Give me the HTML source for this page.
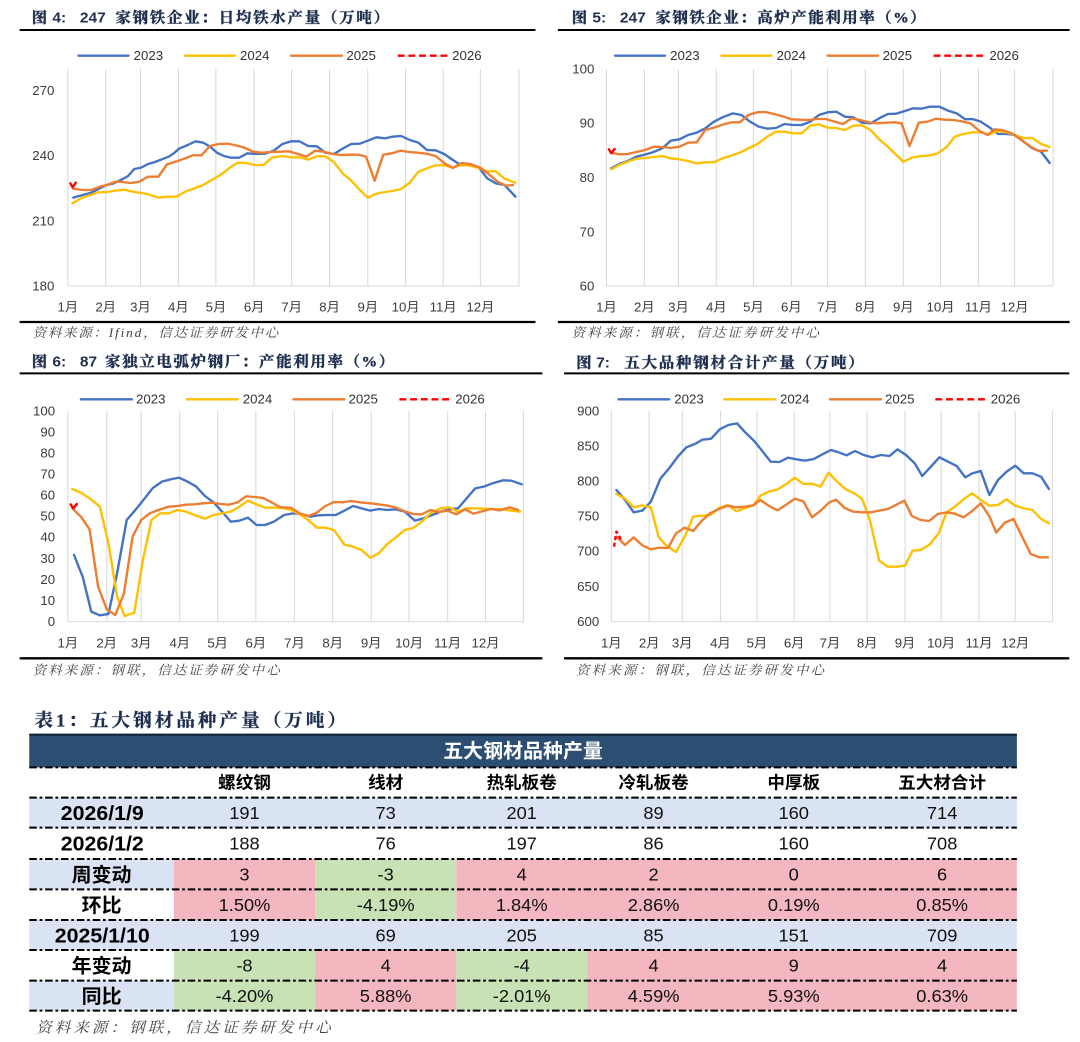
<!DOCTYPE html>
<html><head><meta charset="utf-8"><style>
html,body{margin:0;padding:0;background:#fff;}
svg{display:block;}
.ax{font-family:"Liberation Sans","Noto Sans CJK SC",sans-serif;font-size:38.5px;fill:#3a3a3a;}
.lg{font-family:"Liberation Sans",sans-serif;font-size:38.5px;fill:#333;}
.tt{font-family:"Liberation Serif","Noto Serif CJK SC",serif;font-size:45px;font-weight:bold;fill:#1f2f4f;stroke:#1f2f4f;stroke-width:1.2;}
.tb{font-family:"Liberation Sans",sans-serif;font-size:45px;font-weight:bold;fill:#1f2f4f;}
.src{font-family:"Liberation Serif","Noto Serif CJK SC",serif;font-size:39px;font-style:italic;fill:#444;}
.grid{stroke:#d9d9d9;stroke-width:3;}
.s{fill:none;stroke-width:7;stroke-linejoin:round;stroke-linecap:round;}
.b{stroke:#4472c4;}.y{stroke:#ffc000;}.o{stroke:#ed7d31;}.r{stroke:#ff0000;stroke-dasharray:12 8;stroke-linecap:butt;}
.hd{font-family:"Liberation Sans","Noto Sans CJK SC",sans-serif;font-weight:bold;fill:#000;text-anchor:middle;}
.nv{font-family:"Liberation Sans",sans-serif;font-size:53px;fill:#111;text-anchor:middle;}
.dd{stroke:#000;stroke-width:6;stroke-dasharray:22 8 8 8;}
</style></head><body>
<svg width="1080" height="1042" viewBox="0 0 1080 1042" xmlns="http://www.w3.org/2000/svg">

<!-- ============ CHART 1 ============ -->
<g transform="translate(0,0) scale(0.34435,0.33333)">
  <text class="tt" x="92" y="68">图</text>
  <text class="tb" x="152" y="68">4:</text>
  <text class="tb" x="232" y="68">247</text>
  <text class="tt" x="335" y="68" textLength="795" lengthAdjust="spacing">家钢铁企业：日均铁水产量（万吨）</text>
  <line x1="57" y1="90" x2="1555" y2="90" stroke="#000" stroke-width="6"/>
  <line x1="228" y1="167" x2="373" y2="167" class="s b"/><text class="lg" x="388" y="180">2023</text>
  <line x1="537" y1="167" x2="682" y2="167" class="s y"/><text class="lg" x="697" y="180">2024</text>
  <line x1="845" y1="167" x2="993" y2="167" class="s o"/><text class="lg" x="1006" y="180">2025</text>
  <line x1="1155" y1="167" x2="1303" y2="167" class="s r" style="stroke-dasharray:20 11"/><text class="lg" x="1313" y="180">2026</text>
  <g class="grid">
    <line x1="197" y1="207" x2="197" y2="858"/><line x1="307" y1="207" x2="307" y2="858"/><line x1="408" y1="207" x2="408" y2="858"/><line x1="518" y1="207" x2="518" y2="858"/><line x1="627" y1="207" x2="627" y2="858"/><line x1="738" y1="207" x2="738" y2="858"/><line x1="847" y1="207" x2="847" y2="858"/><line x1="957" y1="207" x2="957" y2="858"/><line x1="1068" y1="207" x2="1068" y2="858"/><line x1="1178" y1="207" x2="1178" y2="858"/><line x1="1287" y1="207" x2="1287" y2="858"/><line x1="1395" y1="207" x2="1395" y2="858"/><line x1="1507" y1="207" x2="1507" y2="858"/>
    <line x1="197" y1="858" x2="1507" y2="858"/>
  </g>
  <g class="ax" text-anchor="end">
    <text x="158" y="285">270</text><text x="158" y="480">240</text><text x="158" y="676">210</text><text x="158" y="871">180</text>
  </g>
  <g class="ax" text-anchor="middle">
    <text x="197" y="934">1月</text><text x="307" y="934">2月</text><text x="408" y="934">3月</text><text x="518" y="934">4月</text><text x="627" y="934">5月</text><text x="738" y="934">6月</text><text x="847" y="934">7月</text><text x="957" y="934">8月</text><text x="1068" y="934">9月</text><text x="1178" y="934">10月</text><text x="1287" y="934">11月</text><text x="1395" y="934">12月</text>
  </g>
  <polyline class="s b" points="213,593 240,585 265,578 290,565 307,556 330,550 355,538 372,528 390,507 410,503 430,492 450,486 470,478 490,470 507,458 520,446 545,435 568,424 590,428 610,440 630,458 650,468 670,473 695,473 718,460 740,462 770,461 795,452 820,432 845,424 870,424 895,438 920,439 945,458 970,462 995,446 1020,432 1045,431 1068,422 1093,412 1118,415 1140,410 1165,408 1190,420 1215,428 1240,450 1265,451 1290,462 1315,480 1340,496 1365,496 1390,502 1415,535 1440,550 1465,555 1497,590"/>
  <polyline class="s y" points="210,610 235,595 260,586 285,577 310,576 335,572 360,569 385,575 410,579 435,584 460,593 485,590 512,590 540,574 565,565 590,555 615,540 640,525 665,505 690,488 715,489 740,495 765,495 790,473 820,468 845,472 870,472 895,479 920,469 945,469 970,487 995,520 1020,542 1045,570 1068,593 1093,581 1118,576 1140,573 1165,567 1190,548 1215,515 1240,505 1265,496 1290,496 1315,503 1340,495 1365,497 1390,504 1415,514 1440,514 1465,536 1497,548"/>
  <polyline class="s o" points="213,566 240,570 265,570 290,560 310,555 335,545 355,546 380,549 405,545 430,530 460,530 485,493 510,485 535,476 560,466 585,466 610,438 635,432 660,431 685,436 710,443 735,455 760,458 790,456 815,455 840,454 865,462 890,470 915,452 940,455 965,462 990,465 1015,464 1040,464 1063,470 1088,542 1113,464 1138,460 1163,452 1188,456 1213,458 1238,461 1265,468 1290,489 1315,504 1340,489 1365,492 1395,503 1420,523 1445,545 1470,557 1490,555"/>
  <polyline class="s" stroke="#ff0000" points="204,550 211,562 220,548"/>
  <line x1="57" y1="966" x2="1555" y2="966" stroke="#000" stroke-width="7"/>
  <text class="src" x="95" y="1011" textLength="713" lengthAdjust="spacing">资料来源：Ifind，信达证券研发中心</text>
</g>

<!-- ============ CHART 2 ============ -->
<g transform="translate(540,0) scale(0.34435,0.33333)">
  <text class="tt" x="92" y="68">图</text>
  <text class="tb" x="152" y="68">5:</text>
  <text class="tb" x="232" y="68">247</text>
  <text class="tt" x="335" y="68" textLength="785" lengthAdjust="spacing">家钢铁企业：高炉产能利用率（%）</text>
  <line x1="52" y1="90" x2="1538" y2="90" stroke="#000" stroke-width="6"/>
  <line x1="218" y1="167" x2="363" y2="167" class="s b"/><text class="lg" x="378" y="180">2023</text>
  <line x1="527" y1="167" x2="672" y2="167" class="s y"/><text class="lg" x="687" y="180">2024</text>
  <line x1="835" y1="167" x2="982" y2="167" class="s o"/><text class="lg" x="995" y="180">2025</text>
  <line x1="1143" y1="167" x2="1292" y2="167" class="s r" style="stroke-dasharray:20 11"/><text class="lg" x="1305" y="180">2026</text>
  <g class="grid">
    <line x1="193" y1="207" x2="193" y2="858"/><line x1="303" y1="207" x2="303" y2="858"/><line x1="402" y1="207" x2="402" y2="858"/><line x1="512" y1="207" x2="512" y2="858"/><line x1="620" y1="207" x2="620" y2="858"/><line x1="730" y1="207" x2="730" y2="858"/><line x1="835" y1="207" x2="835" y2="858"/><line x1="945" y1="207" x2="945" y2="858"/><line x1="1055" y1="207" x2="1055" y2="858"/><line x1="1163" y1="207" x2="1163" y2="858"/><line x1="1273" y1="207" x2="1273" y2="858"/><line x1="1378" y1="207" x2="1378" y2="858"/><line x1="1490" y1="207" x2="1490" y2="858"/>
    <line x1="193" y1="858" x2="1490" y2="858"/>
  </g>
  <g class="ax" text-anchor="end">
    <text x="158" y="220">100</text><text x="158" y="383">90</text><text x="158" y="546">80</text><text x="158" y="709">70</text><text x="158" y="871">60</text>
  </g>
  <g class="ax" text-anchor="middle">
    <text x="193" y="934">1月</text><text x="303" y="934">2月</text><text x="402" y="934">3月</text><text x="512" y="934">4月</text><text x="620" y="934">5月</text><text x="730" y="934">6月</text><text x="835" y="934">7月</text><text x="945" y="934">8月</text><text x="1055" y="934">9月</text><text x="1163" y="934">10月</text><text x="1273" y="934">11月</text><text x="1378" y="934">12月</text>
  </g>
  <polyline class="s b" points="207,505 230,492 255,483 280,470 305,464 330,456 355,445 380,422 405,418 430,405 455,398 480,385 505,365 530,352 560,340 585,345 610,365 635,380 660,386 685,384 710,372 735,375 760,375 785,365 810,345 835,337 860,335 885,350 910,352 935,368 960,370 985,355 1010,342 1035,341 1060,333 1083,325 1108,326 1133,320 1160,320 1185,332 1210,340 1235,358 1255,357 1280,365 1305,382 1330,402 1355,402 1380,405 1405,425 1430,445 1455,455 1480,489"/>
  <polyline class="s y" points="207,508 230,495 255,485 280,476 305,474 330,471 355,468 380,475 405,478 430,483 455,490 480,487 505,487 530,475 555,467 580,458 605,445 630,433 660,410 685,395 710,395 735,400 760,400 785,377 810,373 835,383 860,384 885,390 910,377 935,376 960,390 985,418 1010,440 1035,465 1055,485 1080,473 1105,468 1130,467 1155,460 1180,442 1205,410 1230,402 1255,397 1280,397 1305,403 1330,393 1355,397 1380,406 1405,414 1430,414 1455,432 1480,441"/>
  <polyline class="s o" points="207,458 230,463 255,462 280,456 305,450 330,440 355,441 380,444 405,440 430,428 455,427 480,390 505,383 530,374 555,367 580,367 605,345 630,337 655,336 680,342 705,349 730,358 755,359 780,360 805,357 830,357 855,365 880,372 905,355 930,360 955,367 980,370 1005,368 1030,367 1050,370 1073,438 1100,368 1125,365 1150,356 1175,359 1200,360 1225,364 1250,370 1275,392 1300,405 1320,388 1345,391 1370,400 1395,418 1420,437 1445,452 1472,452"/>
  <polyline class="s" stroke="#ff0000" points="200,448 207,460 217,447"/>
  <line x1="52" y1="966" x2="1538" y2="966" stroke="#000" stroke-width="7"/>
  <text class="src" x="92" y="1011" textLength="718" lengthAdjust="spacing">资料来源：钢联，信达证券研发中心</text>
</g>

<!-- ============ CHART 3 ============ -->
<g transform="translate(0,340) scale(0.34435,0.33333)">
  <text class="tt" x="92" y="80">图</text>
  <text class="tb" x="152" y="80">6:</text>
  <text class="tb" x="232" y="80">87</text>
  <text class="tt" x="305" y="80" textLength="840" lengthAdjust="spacing">家独立电弧炉钢厂：产能利用率（%）</text>
  <line x1="57" y1="100" x2="1575" y2="100" stroke="#000" stroke-width="6"/>
  <line x1="235" y1="178" x2="383" y2="178" class="s b"/><text class="lg" x="395" y="191">2023</text>
  <line x1="543" y1="178" x2="690" y2="178" class="s y"/><text class="lg" x="705" y="191">2024</text>
  <line x1="852" y1="178" x2="1000" y2="178" class="s o"/><text class="lg" x="1012" y="191">2025</text>
  <line x1="1160" y1="178" x2="1310" y2="178" class="s r" style="stroke-dasharray:20 11"/><text class="lg" x="1322" y="191">2026</text>
  <g class="grid">
    <line x1="197" y1="213" x2="197" y2="845"/><line x1="310" y1="213" x2="310" y2="845"/><line x1="410" y1="213" x2="410" y2="845"/><line x1="522" y1="213" x2="522" y2="845"/><line x1="632" y1="213" x2="632" y2="845"/><line x1="743" y1="213" x2="743" y2="845"/><line x1="855" y1="213" x2="855" y2="845"/><line x1="966" y1="213" x2="966" y2="845"/><line x1="1078" y1="213" x2="1078" y2="845"/><line x1="1188" y1="213" x2="1188" y2="845"/><line x1="1300" y1="213" x2="1300" y2="845"/><line x1="1410" y1="213" x2="1410" y2="845"/><line x1="1520" y1="213" x2="1520" y2="845"/>
    <line x1="197" y1="845" x2="1520" y2="845"/>
  </g>
  <g class="ax" text-anchor="end">
    <text x="160" y="226">100</text><text x="160" y="289">90</text><text x="160" y="353">80</text><text x="160" y="416">70</text><text x="160" y="479">60</text><text x="160" y="542">50</text><text x="160" y="605">40</text><text x="160" y="669">30</text><text x="160" y="732">20</text><text x="160" y="795">10</text><text x="160" y="858">0</text>
  </g>
  <g class="ax" text-anchor="middle">
    <text x="197" y="922">1月</text><text x="310" y="922">2月</text><text x="410" y="922">3月</text><text x="522" y="922">4月</text><text x="632" y="922">5月</text><text x="743" y="922">6月</text><text x="855" y="922">7月</text><text x="966" y="922">8月</text><text x="1078" y="922">9月</text><text x="1188" y="922">10月</text><text x="1300" y="922">11月</text><text x="1410" y="922">12月</text>
  </g>
  <polyline class="s b" points="215,645 240,710 265,815 290,826 315,822 340,700 368,540 393,510 418,478 443,445 470,425 495,418 520,413 545,425 570,440 595,468 620,487 645,515 670,545 695,542 720,533 745,555 770,555 795,545 825,525 850,520 875,522 900,530 925,526 950,525 975,525 1000,512 1025,498 1050,505 1075,512 1100,507 1125,510 1150,508 1175,515 1205,542 1230,535 1255,525 1280,515 1305,508 1330,505 1355,475 1380,445 1405,440 1430,430 1460,421 1485,422 1515,433"/>
  <polyline class="s y" points="210,447 235,458 260,475 290,500 315,610 340,770 362,828 390,818 415,660 440,540 465,520 490,520 515,510 540,515 565,525 595,536 620,525 645,520 670,515 695,500 720,482 745,493 770,503 795,503 820,504 845,510 870,523 895,540 920,563 945,563 970,570 1000,614 1025,620 1050,630 1075,653 1100,640 1125,612 1150,592 1175,570 1200,564 1225,545 1250,520 1280,505 1305,502 1330,515 1355,505 1380,505 1405,506 1430,507 1455,508 1485,512 1510,515"/>
  <polyline class="s o" points="210,505 235,530 260,568 285,740 310,808 335,825 360,760 385,590 410,540 435,520 460,510 490,500 515,498 540,494 565,493 590,490 615,488 640,492 665,494 690,487 715,469 740,471 765,474 790,488 815,502 845,503 870,520 895,528 920,518 945,498 970,486 995,487 1020,483 1045,487 1075,490 1100,493 1125,497 1150,503 1175,514 1200,522 1225,523 1250,510 1275,516 1300,512 1325,523 1350,508 1375,521 1400,514 1425,507 1450,511 1480,502 1505,510"/>
  <polyline class="s" stroke="#ff0000" points="205,493 213,505 223,492"/>
  <line x1="57" y1="955" x2="1575" y2="955" stroke="#000" stroke-width="7"/>
  <text class="src" x="95" y="1004" textLength="717" lengthAdjust="spacing">资料来源：钢联，信达证券研发中心</text>
</g>

<!-- ============ CHART 4 ============ -->
<g transform="translate(540,340) scale(0.34435,0.33333)">
  <text class="tt" x="105" y="83">图</text>
  <text class="tb" x="163" y="83">7:</text>
  <text class="tt" x="245" y="83" textLength="695" lengthAdjust="spacing">五大品种钢材合计产量（万吨）</text>
  <line x1="70" y1="100" x2="1537" y2="100" stroke="#000" stroke-width="6"/>
  <line x1="228" y1="178" x2="375" y2="178" class="s b"/><text class="lg" x="390" y="191">2023</text>
  <line x1="535" y1="178" x2="682" y2="178" class="s y"/><text class="lg" x="697" y="191">2024</text>
  <line x1="842" y1="178" x2="990" y2="178" class="s o"/><text class="lg" x="1002" y="191">2025</text>
  <line x1="1148" y1="178" x2="1297" y2="178" class="s r" style="stroke-dasharray:20 11"/><text class="lg" x="1309" y="191">2026</text>
  <g class="grid">
    <line x1="207" y1="213" x2="207" y2="845"/><line x1="317" y1="213" x2="317" y2="845"/><line x1="413" y1="213" x2="413" y2="845"/><line x1="524" y1="213" x2="524" y2="845"/><line x1="630" y1="213" x2="630" y2="845"/><line x1="738" y1="213" x2="738" y2="845"/><line x1="842" y1="213" x2="842" y2="845"/><line x1="950" y1="213" x2="950" y2="845"/><line x1="1060" y1="213" x2="1060" y2="845"/><line x1="1165" y1="213" x2="1165" y2="845"/><line x1="1275" y1="213" x2="1275" y2="845"/><line x1="1380" y1="213" x2="1380" y2="845"/><line x1="1488" y1="213" x2="1488" y2="845"/>
    <line x1="207" y1="845" x2="1488" y2="845"/>
  </g>
  <g class="ax" text-anchor="end">
    <text x="172" y="226">900</text><text x="172" y="331">850</text><text x="172" y="437">800</text><text x="172" y="542">750</text><text x="172" y="647">700</text><text x="172" y="753">650</text><text x="172" y="858">600</text>
  </g>
  <g class="ax" text-anchor="middle">
    <text x="207" y="922">1月</text><text x="317" y="922">2月</text><text x="413" y="922">3月</text><text x="524" y="922">4月</text><text x="630" y="922">5月</text><text x="738" y="922">6月</text><text x="842" y="922">7月</text><text x="950" y="922">8月</text><text x="1060" y="922">9月</text><text x="1165" y="922">10月</text><text x="1275" y="922">11月</text><text x="1380" y="922">12月</text>
  </g>
  <polyline class="s b" points="222,450 247,480 272,517 297,512 322,485 350,415 375,385 400,350 425,322 450,312 472,299 497,296 522,268 547,255 572,250 597,278 622,303 647,335 670,365 695,366 720,353 745,358 770,362 795,357 820,343 845,330 870,338 890,346 915,333 940,345 965,352 990,345 1015,348 1038,328 1063,345 1088,370 1110,408 1135,380 1160,352 1185,365 1210,378 1235,412 1255,400 1280,393 1305,465 1330,420 1355,395 1380,377 1405,400 1430,400 1455,410 1478,447"/>
  <polyline class="s y" points="222,462 247,476 272,502 297,496 322,502 345,592 370,620 395,636 420,590 445,530 470,527 495,525 520,504 545,495 570,514 595,505 620,495 640,467 665,455 690,448 715,432 740,413 765,432 790,431 815,440 838,398 863,425 888,448 913,460 935,476 958,540 985,662 1010,680 1035,680 1060,677 1082,632 1105,630 1130,615 1158,580 1180,518 1205,500 1230,478 1255,460 1280,480 1305,497 1330,495 1355,478 1380,497 1405,505 1430,510 1455,537 1478,550"/>
  <polyline class="s o" points="222,590 247,615 272,592 297,616 322,628 347,623 372,624 395,580 420,563 445,573 470,542 495,519 520,507 545,497 570,502 595,500 620,496 640,480 665,498 690,511 715,494 740,476 765,484 790,532 815,512 840,487 860,479 885,504 910,515 935,517 960,517 985,512 1010,507 1035,494 1058,482 1080,528 1105,540 1130,543 1155,522 1180,517 1205,521 1230,532 1255,513 1280,490 1305,529 1325,578 1350,548 1375,537 1400,590 1425,642 1450,652 1475,652"/>
  <polyline class="s r" points="215,620 222,575 238,603"/>
  <line x1="70" y1="955" x2="1537" y2="955" stroke="#000" stroke-width="7"/>
  <text class="src" x="105" y="1004" textLength="720" lengthAdjust="spacing">资料来源：钢联，信达证券研发中心</text>
</g>

<!-- ============ TABLE ============ -->
<g transform="translate(0,690) scale(0.34435,0.33333)">
  <text x="100" y="110" textLength="905" lengthAdjust="spacing" style="font-family:'Liberation Serif','Noto Serif CJK SC',serif;font-size:54px;font-weight:bold;fill:#1f3050;stroke:#1f3050;stroke-width:1;">表1：五大钢材品种产量（万吨）</text>
  <!-- header band -->
  <rect x="85" y="132" width="2868" height="100" fill="#2b4e72"/>
  <line x1="85" y1="134" x2="2953" y2="134" stroke="#0f1f33" stroke-width="6"/>
  <text x="1519" y="203" style="font-family:'Liberation Sans','Noto Sans CJK SC',sans-serif;font-size:58px;font-weight:bold;fill:#fff;" text-anchor="middle">五大钢材品种产量</text>
  <!-- row fills -->
  <rect x="85" y="323" width="2868" height="90" fill="#dae3f3"/>
  <rect x="85" y="507" width="420" height="91" fill="#dae3f3"/>
  <rect x="505" y="507" width="410" height="91" fill="#f4b6bf"/>
  <rect x="915" y="507" width="410" height="91" fill="#c8e2b6"/>
  <rect x="1325" y="507" width="1628" height="91" fill="#f4b6bf"/>
  <rect x="505" y="598" width="410" height="92" fill="#f4b6bf"/>
  <rect x="915" y="598" width="410" height="92" fill="#c8e2b6"/>
  <rect x="1325" y="598" width="1628" height="92" fill="#f4b6bf"/>
  <rect x="85" y="690" width="2868" height="90" fill="#dae3f3"/>
  <rect x="505" y="780" width="410" height="92" fill="#c8e2b6"/>
  <rect x="915" y="780" width="410" height="92" fill="#f4b6bf"/>
  <rect x="1325" y="780" width="380" height="92" fill="#c8e2b6"/>
  <rect x="1705" y="780" width="1248" height="92" fill="#f4b6bf"/>
  <rect x="85" y="872" width="420" height="90" fill="#dae3f3"/>
  <rect x="505" y="872" width="410" height="90" fill="#c8e2b6"/>
  <rect x="915" y="872" width="410" height="90" fill="#f4b6bf"/>
  <rect x="1325" y="872" width="380" height="90" fill="#c8e2b6"/>
  <rect x="1705" y="872" width="1248" height="90" fill="#f4b6bf"/>
  <!-- dash-dot lines -->
  <g class="dd">
    <line x1="85" y1="232" x2="2953" y2="232"/><line x1="85" y1="323" x2="2953" y2="323"/><line x1="85" y1="413" x2="2953" y2="413"/><line x1="85" y1="507" x2="2953" y2="507"/><line x1="85" y1="598" x2="2953" y2="598"/><line x1="85" y1="690" x2="2953" y2="690"/><line x1="85" y1="780" x2="2953" y2="780"/><line x1="85" y1="872" x2="2953" y2="872"/><line x1="85" y1="962" x2="2953" y2="962"/>
  </g>
  <!-- column headers -->
  <g class="hd" style="font-size:51px;">
    <text x="710" y="296">螺纹钢</text><text x="1120" y="296">线材</text><text x="1515" y="296">热轧板卷</text><text x="1898" y="296">冷轧板卷</text><text x="2305" y="296">中厚板</text><text x="2736" y="296">五大材合计</text>
  </g>
  <!-- row labels -->
  <g class="hd" style="font-size:62px;">
    <text x="297" y="390">2026/1/9</text><text x="297" y="482">2026/1/2</text><text x="297" y="757">2025/1/10</text>
  </g>
  <g class="hd" style="font-size:58px;">
    <text x="295" y="574">周变动</text><text x="295" y="666">环比</text><text x="295" y="848">年变动</text><text x="295" y="939">同比</text>
  </g>
  <!-- values -->
  <g class="nv">
    <text x="710" y="387">191</text><text x="1120" y="387">73</text><text x="1515" y="387">201</text><text x="1898" y="387">89</text><text x="2305" y="387">160</text><text x="2736" y="387">714</text>
    <text x="710" y="479">188</text><text x="1120" y="479">76</text><text x="1515" y="479">197</text><text x="1898" y="479">86</text><text x="2305" y="479">160</text><text x="2736" y="479">708</text>
    <text x="710" y="571">3</text><text x="1120" y="571">-3</text><text x="1515" y="571">4</text><text x="1898" y="571">2</text><text x="2305" y="571">0</text><text x="2736" y="571">6</text>
    <text x="710" y="663">1.50%</text><text x="1120" y="663">-4.19%</text><text x="1515" y="663">1.84%</text><text x="1898" y="663">2.86%</text><text x="2305" y="663">0.19%</text><text x="2736" y="663">0.85%</text>
    <text x="710" y="754">199</text><text x="1120" y="754">69</text><text x="1515" y="754">205</text><text x="1898" y="754">85</text><text x="2305" y="754">151</text><text x="2736" y="754">709</text>
    <text x="710" y="845">-8</text><text x="1120" y="845">4</text><text x="1515" y="845">-4</text><text x="1898" y="845">4</text><text x="2305" y="845">9</text><text x="2736" y="845">4</text>
    <text x="710" y="936">-4.20%</text><text x="1120" y="936">5.88%</text><text x="1515" y="936">-2.01%</text><text x="1898" y="936">4.59%</text><text x="2305" y="936">5.93%</text><text x="2736" y="936">0.63%</text>
  </g>
  <text x="105" y="1027" textLength="855" lengthAdjust="spacing" style="font-family:'Liberation Serif','Noto Serif CJK SC',serif;font-size:45px;font-style:italic;fill:#444;">资料来源：钢联，信达证券研发中心</text>
</g>
</svg>
</body></html>
